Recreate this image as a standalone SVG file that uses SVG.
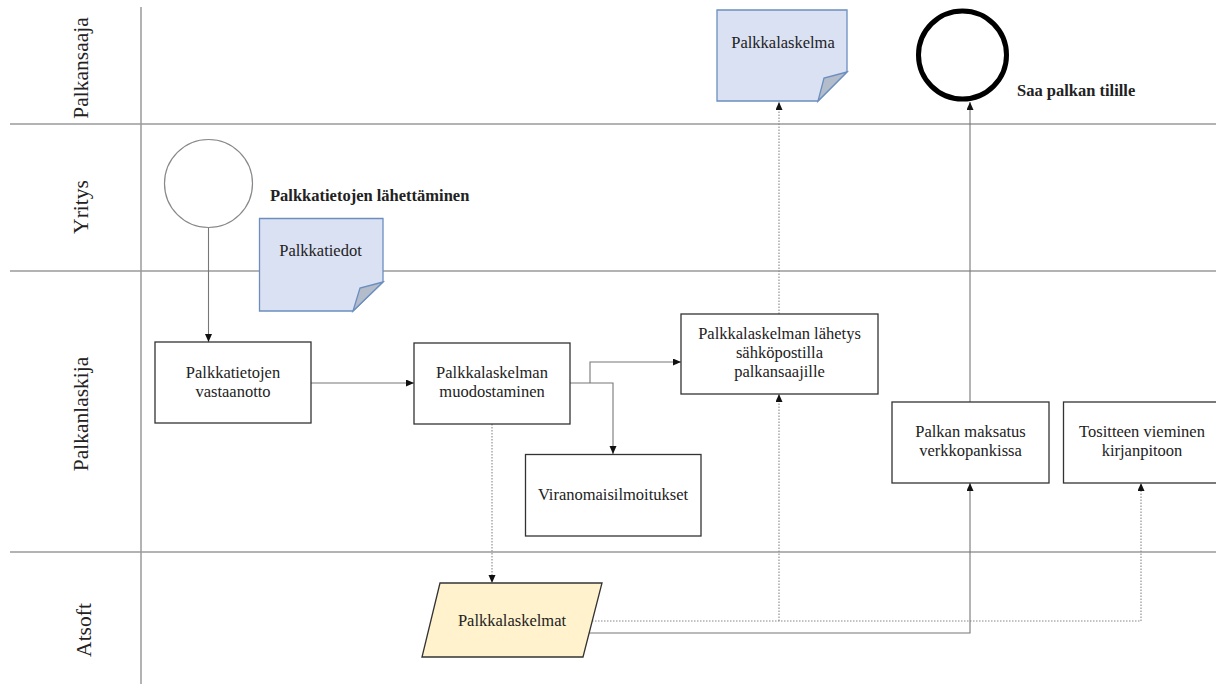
<svg xmlns="http://www.w3.org/2000/svg" width="1216" height="684" viewBox="0 0 1216 684">
<style>
text{font-family:"Liberation Serif","Times New Roman",serif;fill:#222}
.lane{font-size:21.5px;text-anchor:middle}
.t{font-size:16.5px;text-anchor:middle}
.b{font-size:16.5px;font-weight:bold}
.box{fill:#fff;stroke:#333;stroke-width:1.3}
.doc{fill:#dae1f3;stroke:#6c8ebf;stroke-width:1.3}
.fold{fill:#b3bccb;stroke:#6c8ebf;stroke-width:1.3}
.ll{stroke:#9a9a9a;stroke-width:1.5;fill:none}
.c{stroke:#777;stroke-width:1.1;fill:none}
.d{stroke:#888;stroke-width:1.1;fill:none;stroke-dasharray:1.5 1.5}
</style>
<defs>
<marker id="ah" markerUnits="userSpaceOnUse" markerWidth="9" markerHeight="8" refX="8" refY="3.5" orient="auto">
<path d="M0,0 L8,3.5 L0,7 z" fill="#111"/>
</marker>
</defs>
<rect width="1216" height="684" fill="#fff"/>
<g id="lanes">
<line class="ll" x1="10" y1="124" x2="1216" y2="124"/>
<line class="ll" x1="10" y1="271" x2="1216" y2="271"/>
<line class="ll" x1="10" y1="552" x2="1216" y2="552"/>
<line class="ll" x1="141" y1="7" x2="141" y2="684"/>
<text class="lane" transform="translate(88,68) rotate(-90)">Palkansaaja</text>
<text class="lane" transform="translate(88,207) rotate(-90)">Yritys</text>
<text class="lane" transform="translate(88,414) rotate(-90)">Palkanlaskija</text>
<text class="lane" transform="translate(90.5,630) rotate(-90)">Atsoft</text>
</g>
<g id="connectors">
<path class="c" d="M208.5,228 V342" marker-end="url(#ah)"/>
<path class="c" d="M311,383 H414" marker-end="url(#ah)"/>
<path class="c" d="M570,383 H613 V454" marker-end="url(#ah)"/>
<path class="c" d="M590,383 V362 H681" marker-end="url(#ah)"/>
<path class="d" d="M492,424 V583" marker-end="url(#ah)"/>
<path class="d" d="M779,314 V102" marker-end="url(#ah)"/>
<path class="d" d="M592,621 H1141 V483" marker-end="url(#ah)"/>
<path class="d" d="M779,621 V394" marker-end="url(#ah)"/>
<path class="c" d="M589,633 H970 V483" marker-end="url(#ah)"/>
<path class="c" d="M970,402 V102" marker-end="url(#ah)"/>
</g>
<g id="start">
<circle cx="208.5" cy="183.5" r="44" fill="#fff" stroke="#888" stroke-width="1.2"/>
<text class="b" x="270" y="201">Palkkatietojen lähettäminen</text>
</g>
<g id="palkkatiedot">
<path class="doc" d="M259.5,218.5 H383 V282 L353,311 H259.5 Z"/>
<path class="fold" d="M383,282 L360,288 L353,311 Z"/>
<text class="t" x="320.5" y="256">Palkkatiedot</text>
</g>
<g id="vastaanotto">
<rect class="box" x="155" y="342" width="156" height="81"/>
<text class="t" x="233" y="378">Palkkatietojen</text>
<text class="t" x="233" y="397">vastaanotto</text>
</g>
<g id="muodostaminen">
<rect class="box" x="414" y="343" width="156" height="81"/>
<text class="t" x="492" y="378">Palkkalaskelman</text>
<text class="t" x="492" y="397">muodostaminen</text>
</g>
<g id="viranomais">
<rect class="box" x="525.5" y="454.5" width="175.5" height="81.5"/>
<text class="t" x="613" y="500">Viranomaisilmoitukset</text>
</g>
<g id="lahetys">
<rect class="box" x="681" y="314" width="197" height="80"/>
<text class="t" x="779.5" y="339">Palkkalaskelman lähetys</text>
<text class="t" x="779.5" y="358">sähköpostilla</text>
<text class="t" x="779.5" y="377">palkansaajille</text>
</g>
<g id="palkkalaskelma">
<path class="doc" d="M717,10 H847 V72 L818,101 H717 Z"/>
<path class="fold" d="M847,72 L824,78 L818,101 Z"/>
<text class="t" x="783" y="48">Palkkalaskelma</text>
</g>
<g id="end">
<circle cx="962.5" cy="55" r="44" fill="#fff" stroke="#000" stroke-width="5"/>
<text class="b" x="1017" y="96">Saa palkan tilille</text>
</g>
<g id="maksatus">
<rect class="box" x="892" y="402" width="157" height="81"/>
<text class="t" x="970.5" y="437">Palkan maksatus</text>
<text class="t" x="970.5" y="456">verkkopankissa</text>
</g>
<g id="tosite">
<rect class="box" x="1063.5" y="402" width="157" height="81"/>
<text class="t" x="1142" y="437">Tositteen vieminen</text>
<text class="t" x="1142" y="456">kirjanpitoon</text>
</g>
<g id="palkkalaskelmat">
<path d="M440,583 H602 L583,657 H422 Z" fill="#fff2cc" stroke="#333" stroke-width="1.3"/>
<text class="t" x="512" y="626">Palkkalaskelmat</text>
</g>
</svg>
